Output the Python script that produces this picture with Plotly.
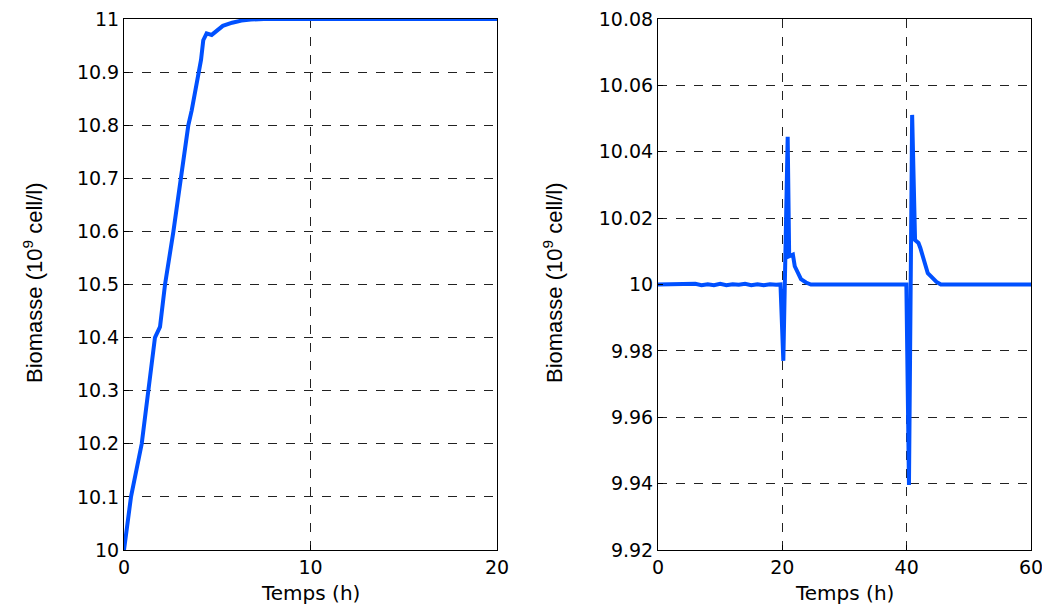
import plotly.graph_objects as go

# Left panel: biomass start-up (0-20 h)
t_left = [0, 0.375, 0.95, 1.3, 1.66, 1.93, 2.2, 2.65, 3.06, 3.45, 3.63, 3.99, 4.13,
          4.25, 4.43, 4.7, 5.0, 5.3, 5.8, 6.3, 6.8, 7.5, 20]
y_left = [10.0, 10.1, 10.2, 10.3, 10.4, 10.42, 10.5, 10.6, 10.7, 10.8, 10.828, 10.9, 10.923,
          10.96, 10.973, 10.970, 10.979, 10.987, 10.993, 10.997, 10.999, 11.0, 11.0]

# Right panel: biomass regulation with disturbances (0-60 h)
t_right = [0, 2, 4, 6, 7, 8, 9, 10, 11, 12, 13, 14, 15, 16, 17, 18, 19, 19.7,
           20.16, 20.86, 21.1, 21.7, 22.0, 22.5, 23.0, 23.8, 24.6, 30, 35, 39.95,
           40.37, 40.88, 41.35, 41.9, 42.2, 42.6, 43.4, 44.8, 45.5, 60]
y_right = [10.0, 10.0, 10.0, 10.0002, 9.9998, 10.0001, 9.9998, 10.0002, 9.9998, 10.0001,
           9.9999, 10.0002, 9.9998, 10.0001, 9.9998, 10.0001, 9.9999, 10.0,
           9.977, 10.0445, 10.0085, 10.009, 10.0055, 10.0034, 10.0016, 10.0006, 10.0,
           10.0, 10.0, 10.0,
           9.9396, 10.0511, 10.0134, 10.0125, 10.011, 10.0084, 10.0034, 10.0008, 10.0, 10.0]

left_xticks = [0, 10, 20]
left_yticks = [10.0, 10.1, 10.2, 10.3, 10.4, 10.5, 10.6, 10.7, 10.8, 10.9, 11.0]
left_yticktext = ["10", "10.1", "10.2", "10.3", "10.4", "10.5", "10.6", "10.7", "10.8", "10.9", "11"]
right_xticks = [0, 20, 40, 60]
right_yticks = [9.92, 9.94, 9.96, 9.98, 10.0, 10.02, 10.04, 10.06, 10.08]
right_yticktext = ["9.92", "9.94", "9.96", "9.98", "10", "10.02", "10.04", "10.06", "10.08"]

x_title = "Temps (h)"
y_title = "Biomasse (10<sup>9</sup> cell/l)"

LINE = "#0050ff"
OFF = 8                      # default page body margin
W, H = 1050 - 2 * OFF, 613 - 2 * OFF


def px_x(p):  # page pixel x -> paper fraction
    return (p - OFF) / W


def px_y(p):  # page pixel y -> paper fraction
    return (H - (p - OFF)) / H


fig = go.Figure()
fig.add_trace(go.Scatter(x=t_left, y=y_left, mode="lines",
                         line=dict(color=LINE, width=4), xaxis="x", yaxis="y",
                         showlegend=False))
fig.add_trace(go.Scatter(x=t_right, y=y_right, mode="lines",
                         line=dict(color=LINE, width=4), xaxis="x2", yaxis="y2",
                         showlegend=False))

tickfont = dict(family="DejaVu Sans", size=19, color="black")
common = dict(showline=True, mirror=True, linecolor="black", linewidth=1,
              ticks="inside", ticklen=5, tickcolor="black",
              showgrid=True, gridcolor="#222222", gridwidth=1, griddash="dash",
              zeroline=False, tickfont=tickfont, automargin=False,
              ticklabeloverflow="allow")

ydom = [px_y(550), px_y(19)]
fig.update_layout(
    width=W, height=H,
    margin=dict(l=0, r=0, t=0, b=0),
    plot_bgcolor="white", paper_bgcolor="white",
    xaxis=dict(domain=[px_x(124), px_x(497)], range=[0, 20], tickvals=left_xticks,
               anchor="y", **common),
    yaxis=dict(domain=ydom, range=[10, 11], tickvals=left_yticks,
               ticktext=left_yticktext, anchor="x", **common),
    xaxis2=dict(domain=[px_x(658), px_x(1031)], range=[0, 60], tickvals=right_xticks,
                anchor="y2", **common),
    yaxis2=dict(domain=ydom, range=[9.92, 10.08], tickvals=right_yticks,
                ticktext=right_yticktext, anchor="x2", **common),
)

titlefont = dict(family="DejaVu Sans", size=20, color="black")
yfont = dict(family="Liberation Sans", size=22, color="black")
for xc in [(124 + 497) / 2, (658 + 1031) / 2]:
    fig.add_annotation(text=x_title, xref="paper", yref="paper", x=px_x(xc), y=px_y(593),
                       showarrow=False, font=titlefont, xanchor="center", yanchor="middle")
for xc in [33, 553]:
    fig.add_annotation(text=y_title, xref="paper", yref="paper", x=px_x(xc), y=px_y(283),
                       showarrow=False, font=yfont, textangle=-90,
                       xanchor="center", yanchor="middle")

fig.write_html("out.html")
